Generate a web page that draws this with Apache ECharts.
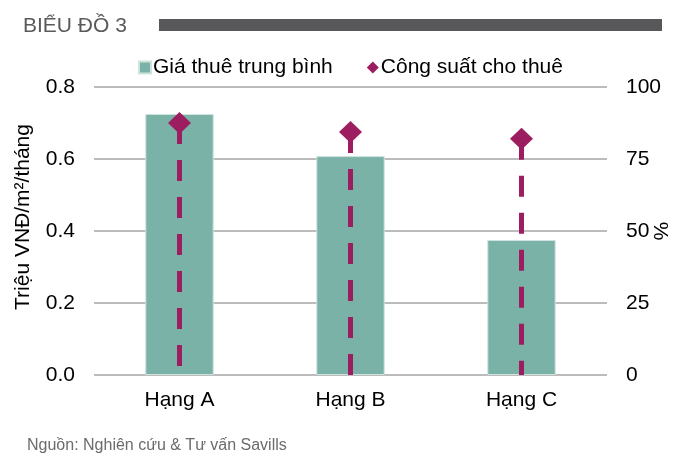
<!DOCTYPE html>
<html>
<head>
<meta charset="utf-8">
<script src="https://cdn.jsdelivr.net/npm/echarts@6/dist/echarts.min.js"></script>
<style>
  html, body { margin: 0; padding: 0; background: #fff; }
  #chart { width: 688px; height: 459px; }
</style>
</head>
<body>
<div id="chart"></div>
<script>
// Office grades and their averages
const categories = ['Hạng A', 'Hạng B', 'Hạng C'];
// Average rent, million VND / m² / month (left axis)
const avgRent = [0.725, 0.608, 0.375];
// Occupancy rate, % (right axis)
const occupancy = [87.5, 84.4, 82];
// Axis tick labels
const rentTicks = ['0.0', '0.2', '0.4', '0.6', '0.8'];
const occupancyTicks = ['0', '25', '50', '75', '100'];

const TEAL = '#7AB2A7';
const PLUM = '#9C1E60';
const FONT = '"Liberation Sans", Arial, sans-serif';
const FS = 21;

const chart = echarts.init(document.getElementById('chart'), null, { renderer: 'canvas' });

chart.setOption({
  animation: false,
  textStyle: { fontFamily: FONT },
  graphic: [
    { type: 'text', x: 23, y: 26, style: { text: 'BIỂU ĐỒ 3', fill: '#5a5a5a', font: '21px ' + FONT, verticalAlign: 'middle' } },
    { type: 'rect', shape: { x: 159, y: 19, width: 503, height: 12 }, style: { fill: '#58585a' } },
    { type: 'text', x: 27, y: 446, style: { text: 'Nguồn: Nghiên cứu & Tư vấn Savills', fill: '#6b6b6b', font: '16px ' + FONT, verticalAlign: 'middle' } }
  ],
  legend: {
    top: 52,
    left: 133,
    itemGap: 34,
    itemWidth: 12,
    itemHeight: 12,
    textStyle: { fontSize: FS, color: '#000', fontFamily: FONT, padding: [0, 0, 0, -3] },
    data: [
      { name: 'Giá thuê trung bình', icon: 'rect' },
      { name: 'Công suất cho thuê', icon: 'path://M0,-1L1,0L0,1L-1,0Z' }
    ]
  },
  grid: { left: 94, right: 81, top: 87, bottom: 84, containLabel: false, outerBoundsMode: 'none' },
  xAxis: {
    type: 'category',
    data: categories,
    axisLine: { show: false },
    axisTick: { show: false },
    axisLabel: { fontSize: FS, color: '#000', margin: 15, fontFamily: FONT }
  },
  yAxis: [
    {
      type: 'value', min: 0, max: 0.8, interval: 0.2,
      name: 'Triệu VNĐ/m²/tháng',
      nameLocation: 'middle', nameRotate: 90, nameGap: 60,
      nameMoveOverlap: false,
      nameTextStyle: { fontSize: FS, color: '#000', fontFamily: FONT, padding: [0, 0, 0, 28] },
      axisLabel: {
        fontSize: FS, color: '#000', margin: 19, fontFamily: FONT,
        formatter: (v) => rentTicks[Math.round(v / 0.2)]
      },
      axisLine: { show: false }, axisTick: { show: false },
      splitLine: { lineStyle: { color: '#a6a6a6', width: 1.5 } }
    },
    {
      type: 'value', min: 0, max: 100, interval: 25,
      name: '%',
      nameLocation: 'middle', nameRotate: -90, nameGap: 42,
      nameMoveOverlap: false,
      nameTextStyle: { fontSize: FS, color: '#000', fontFamily: FONT },
      axisLabel: {
        fontSize: FS, color: '#000', margin: 19, fontFamily: FONT,
        formatter: (v) => occupancyTicks[Math.round(v / 25)]
      },
      axisLine: { show: false }, axisTick: { show: false },
      splitLine: { show: false }
    }
  ],
  series: [
    {
      name: 'Giá thuê trung bình',
      type: 'bar',
      yAxisIndex: 0,
      data: avgRent,
      barWidth: '40%',
      itemStyle: { color: TEAL, borderColor: '#cfe3de', borderWidth: 1 },
      z: 2
    },
    {
      // dashed drop line from each occupancy point down to zero
      name: 'drop',
      type: 'custom',
      yAxisIndex: 1,
      data: occupancy.map((v, i) => [i, v]),
      renderItem: (params, api) => {
        const top = api.coord([api.value(0), api.value(1)]);
        const base = api.coord([api.value(0), 0]);
        return {
          type: 'line',
          shape: { x1: top[0], y1: top[1], x2: base[0], y2: base[1] },
          style: { stroke: PLUM, lineWidth: 5, lineDash: [21, 16], lineCap: 'butt' }
        };
      },
      z: 3,
      silent: true
    },
    {
      name: 'Công suất cho thuê',
      type: 'scatter',
      yAxisIndex: 1,
      data: occupancy,
      symbol: 'diamond',
      symbolSize: [23, 22],
      itemStyle: { color: PLUM, opacity: 1 },
      z: 4
    }
  ]
});
</script>
</body>
</html>
